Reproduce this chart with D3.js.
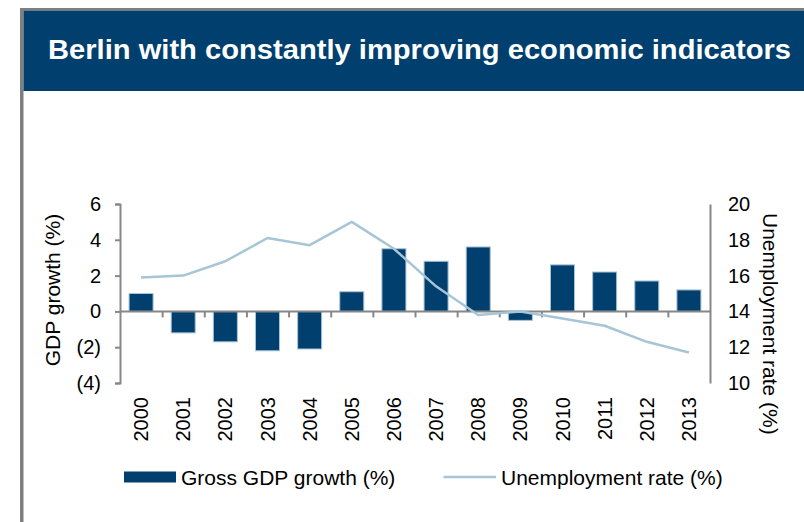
<!DOCTYPE html>
<html>
<head>
<meta charset="utf-8">
<script src="https://cdn.jsdelivr.net/npm/d3@7"></script>
<style>
  html, body { margin: 0; padding: 0; background: #fff; }
  svg { display: block; font-family: "Liberation Sans", Arial, sans-serif; }
</style>
</head>
<body>
<svg id="chart" width="804" height="522"></svg>
<script>
// Berlin: annual GDP growth (bars, left axis) and unemployment rate (line, right axis)
const years = ["2000","2001","2002","2003","2004","2005","2006","2007","2008","2009","2010","2011","2012","2013"];
const gdpGrowth = [1.0, -1.2, -1.7, -2.2, -2.1, 1.1, 3.5, 2.8, 3.6, -0.5, 2.6, 2.2, 1.7, 1.2];
const unemployment = [15.9, 16.0, 16.8, 18.1, 17.7, 19.0, 17.5, 15.4, 13.8, 14.0, 13.6, 13.2, 12.3, 11.7];
const gdpTicks = [-4, -2, 0, 2, 4, 6];
const rateTicks = [10, 12, 14, 16, 18, 20];

const titleText = "Berlin with constantly improving economic indicators";
const gdpLabel = "GDP growth (%)";
const rateLabel = "Unemployment rate (%)";
const legendItems = ["Gross GDP growth (%)", "Unemployment rate (%)"];

const navy = "#003f6e";
const lightBlue = "#a6c5d6";
const axisGray = "#878787";

const svg = d3.select("#chart");

// frame and header band
svg.append("rect").attr("x", 20).attr("y", 8).attr("width", 784).attr("height", 2.5).attr("fill", "#7f7f7f");
svg.append("rect").attr("x", 20).attr("y", 8).attr("width", 3.5).attr("height", 514).attr("fill", "#7f7f7f");
svg.append("rect").attr("x", 23.5).attr("y", 10.5).attr("width", 780.5).attr("height", 80.5).attr("fill", navy);
svg.append("text")
  .attr("x", 48).attr("y", 59)
  .attr("fill", "#fff")
  .attr("font-size", 28).attr("font-weight", "bold")
  .attr("textLength", 743).attr("lengthAdjust", "spacingAndGlyphs")
  .text(titleText);

// plot area
const plotLeft = 120, plotRight = 710, plotTop = 204, plotBottom = 383;

const x = d3.scaleBand().domain(years).range([plotLeft, plotRight]).paddingInner(0.43).paddingOuter(0.215);
const xEdges = d3.scaleLinear().domain([0, years.length]).range([plotLeft, plotRight]);
const yGdp = d3.scaleLinear().domain([-4, 6]).range([plotBottom, plotTop]);
const yRate = d3.scaleLinear().domain([10, 20]).range([plotBottom, plotTop]);

const fmtGdp = v => v < 0 ? "(" + Math.abs(v) + ")" : String(v);

// bars
svg.append("g").selectAll("rect")
  .data(gdpGrowth)
  .join("rect")
  .attr("x", (d, i) => x(years[i]))
  .attr("width", x.bandwidth())
  .attr("y", d => yGdp(Math.max(0, d)))
  .attr("height", d => Math.abs(yGdp(d) - yGdp(0)))
  .attr("fill", navy)
  .attr("stroke", lightBlue)
  .attr("stroke-width", 1);

// zero line with category separators
const xAxis = svg.append("g")
  .attr("transform", `translate(0,${yGdp(0)})`)
  .call(d3.axisBottom(xEdges).tickValues(d3.range(1, years.length)).tickSize(6).tickFormat(""));
xAxis.select(".domain").attr("d", `M${plotLeft},0H${plotRight}`);

// year labels
svg.append("g").selectAll("text")
  .data(years)
  .join("text")
  .attr("transform", d => `translate(${x(d) + x.bandwidth() / 2},397) rotate(-90)`)
  .attr("dy", "0.35em")
  .attr("text-anchor", "end")
  .attr("font-size", 20)
  .attr("fill", "#000")
  .text(d => d);

// left axis
const yAxisL = svg.append("g")
  .attr("transform", `translate(${plotLeft},0)`)
  .call(d3.axisLeft(yGdp).tickValues(gdpTicks).tickSize(5).tickPadding(14).tickFormat(fmtGdp));

// right axis
const yAxisR = svg.append("g")
  .attr("transform", `translate(${plotRight},0)`)
  .call(d3.axisRight(yRate).tickValues(rateTicks).tickSize(0).tickPadding(18));

[xAxis, yAxisL, yAxisR].forEach(g => {
  g.select(".domain").attr("stroke", axisGray).attr("stroke-width", 2);
  g.selectAll(".tick line").attr("stroke", axisGray).attr("stroke-width", 2);
  g.selectAll(".tick text").attr("font-size", 20).attr("fill", "#000")
    .attr("font-family", "'Liberation Sans', Arial, sans-serif");
});
xAxis.raise();

// unemployment line
const line = d3.line()
  .x((d, i) => x(years[i]) + x.bandwidth() / 2)
  .y(d => yRate(d));
svg.append("path")
  .datum(unemployment)
  .attr("d", line)
  .attr("fill", "none")
  .attr("stroke", lightBlue)
  .attr("stroke-width", 2.5)
  .attr("stroke-linejoin", "round");

// axis titles
svg.append("text")
  .attr("transform", "translate(60,290) rotate(-90)")
  .attr("text-anchor", "middle")
  .attr("font-size", 21)
  .attr("fill", "#000")
  .text(gdpLabel);
svg.append("text")
  .attr("transform", "translate(763,213) rotate(90)")
  .attr("text-anchor", "start")
  .attr("font-size", 21)
  .attr("fill", "#000")
  .text(rateLabel);

// legend
const legend = svg.append("g");
legend.append("rect")
  .attr("x", 124).attr("y", 471.5).attr("width", 52).attr("height", 11)
  .attr("fill", navy);
legend.append("text")
  .attr("x", 181).attr("y", 484.5)
  .attr("font-size", 21).attr("fill", "#000")
  .text(legendItems[0]);
legend.append("line")
  .attr("x1", 443.5).attr("x2", 496).attr("y1", 477).attr("y2", 477)
  .attr("stroke", lightBlue).attr("stroke-width", 2.5);
legend.append("text")
  .attr("x", 501).attr("y", 484.5)
  .attr("font-size", 21).attr("fill", "#000")
  .text(legendItems[1]);
</script>
</body>
</html>
